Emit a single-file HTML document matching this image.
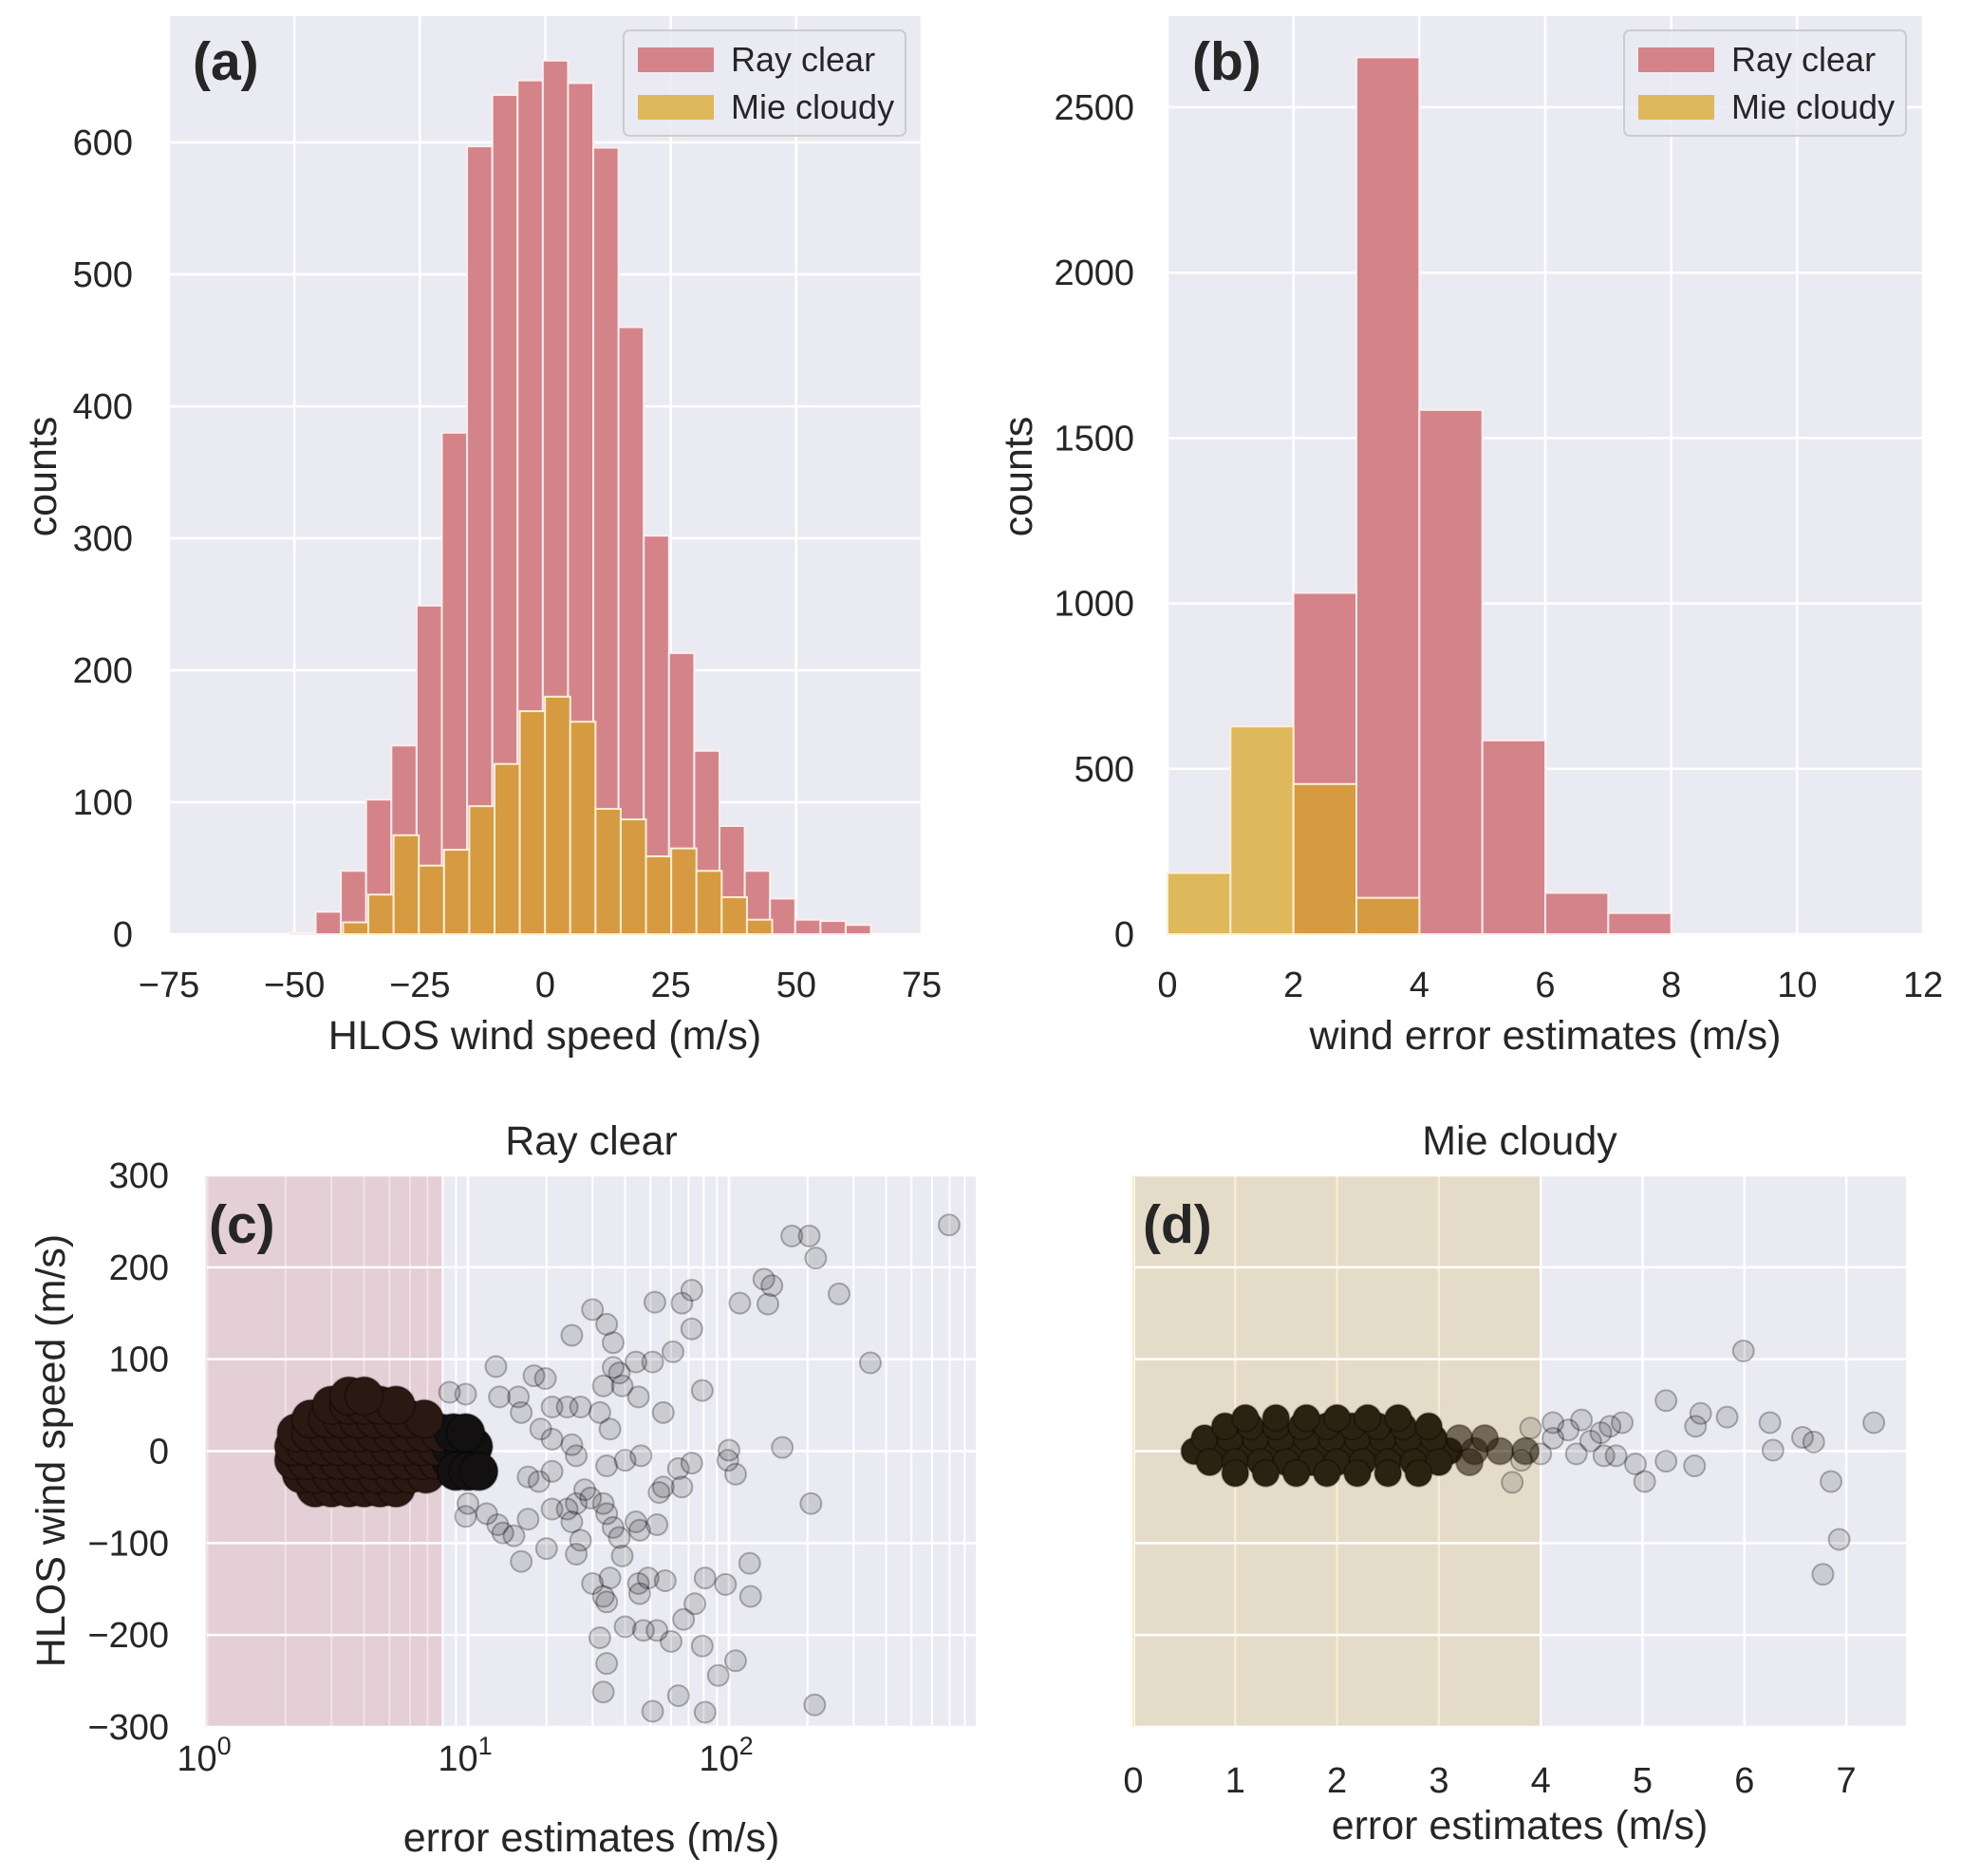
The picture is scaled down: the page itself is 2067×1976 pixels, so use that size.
<!DOCTYPE html>
<html><head><meta charset="utf-8">
<style>
html,body{margin:0;padding:0;background:#fff;}
svg{display:block;font-family:"Liberation Sans",Arial,sans-serif;}
</style></head>
<body>
<svg id="fig" width="2067" height="1976" viewBox="0 0 2067 1976" xmlns="http://www.w3.org/2000/svg"></svg>
<script>
// ---------- Panel (a) data ----------
const aRayStart = -50.8, aMieStart = -40.3, aBinW = 5.03;
const aRayCounts = [1,17,48,102,143,249,380,597,636,647,662,645,596,460,302,213,139,82,48,27,11,10,7];
const aMieCounts = [9,30,75,52,64,97,129,169,180,161,95,87,59,65,48,28,11];
const aXTicks = [-75,-50,-25,0,25,50,75];
const aYTicks = [0,100,200,300,400,500,600];
// ---------- Panel (b) data ----------
const bRayEdges = [2,3,4,5,6,7];
const bRayCounts = [1032,2651,1585,586,125,64];
const bMieEdges = [0,1,2,3];
const bMieCounts = [185,628,454,110];
const bXTicks = [0,2,4,6,8,10,12];
const bYTicks = [0,500,1000,1500,2000,2500];
// ---------- Panel (c) data ----------
const cOutX = [697,174,203,215,136,146,264,110,141,72,66,52,30,34,36,25,72,348,61,51,44,36,38,33,39,45,79,12.8,17.9,19.8,8.5,9.8,13.2,15.6,16,21,24,27,32,35,56,160,100,99,106,72,64,66,56,54,206,46,40,34,26,25,21,19,17,18.7,21,28,29.5,33,26,24,25,27,26,34,36,38,39,44,45.5,53,15,20,16,13,13.6,9.8,10,11.8,17,21,30,35,33,34,45,45.5,49,57,81,97,120,121,74,67,40,47,53,60,79,32,34,91,106,33,64,51,81,213];
const cOutY = [246,234,234,210,187,180,171,161,160,175,161,162,154,138,118,126,133,96,108,97,97,91,85,71,71,59,66,92,82,79,64,62,59,59,42,48,48,48,42,24,42,4,1,-10,-25,-13,-19,-39,-39,-45,-57,-5,-10,-16,-5,7,13,24,-28,-33,-22,-42,-51,-57,-57,-63,-77,-97,-112,-68,-83,-94,-114,-77,-86,-80,-92,-106,-120,-80,-89,-71,-57,-68,-74,-63,-144,-138,-158,-164,-144,-155,-138,-141,-138,-145,-122,-158,-166,-183,-191,-195,-195,-207,-212,-203,-231,-244,-228,-262,-266,-283,-284,-276];
const cCoreX = [2.6,3,3.5,4,4.6,5.3, 2.3,2.6,3,3.4,3.9,4.5,5.2,6,6.9, 2.15,2.4,2.8,3.2,3.7,4.3,5,5.8,6.7,7.6,8.6,9.6, 2.15,2.4,2.8,3.2,3.7,4.3,5,5.8,6.7,7.6,8.6,9.6,10.5, 2.2,2.5,2.9,3.3,3.8,4.4,5.1,5.9,6.8,7.8,8.8,9.8, 2.5,2.9,3.3,3.8,4.4,5.1,5.9,6.8, 3,3.5,4,4.6,5.3, 9,10,11, 3.5,4];
const cCoreY = [-40,-40,-40,-40,-40,-40, -25,-25,-25,-25,-25,-25,-25,-25,-25, -10,-10,-10,-10,-10,-10,-10,-10,-10,-10,-10,-10, 5,5,5,5,5,5,5,5,5,5,5,5,5, 20,20,20,20,20,20,20,20,20,20,20,20, 35,35,35,35,35,35,35,35, 50,50,50,50,50, -22,-22,-22, 60,60];
const cYTicks = [-300,-200,-100,0,100,200,300];
// ---------- Panel (d) data ----------
const dOutX = [4.12,4.12,4.27,4.35,4.40,4.49,4.59,4.68,4.74,4.80,4.62,4.93,5.02,5.23,5.23,5.52,5.57,5.51,5.83,5.99,6.25,6.28,6.57,6.68,6.85,6.93,6.77,7.27,3.9,4.0,3.81,3.72];
const dOutY = [31,14,23,-3,34,11,20,27,-5,31,-5,-14,-33,55,-11,27,41,-16,37,109,31,1,15,10,-33,-96,-134,31,25,-3,-10,-34];
const dCoreX = [0.6,0.85,1.1,1.35,1.6,1.85,2.1,2.35,2.6,2.85,3.1,3.35,3.6,3.85, 0.7,0.95,1.2,1.45,1.7,1.95,2.2,2.45,2.7,2.95,3.2,3.45, 0.75,1.0,1.25,1.5,1.75,2.0,2.25,2.5,2.75,3.0,3.3, 0.9,1.15,1.4,1.65,1.9,2.15,2.4,2.65,2.9, 1.1,1.4,1.7,2.0,2.3,2.6, 1.0,1.3,1.6,1.9,2.2,2.5,2.8];
const dCoreY = [0,0,0,0,0,0,0,0,0,0,0,0,0,0, 14,14,14,14,14,14,14,14,14,14,14,14, -12,-12,-12,-12,-12,-12,-12,-12,-12,-12,-12, 27,27,27,27,27,27,27,27,27, 36,36,36,36,36,36, -24,-24,-24,-24,-24,-24,-24];
const dXTicks = [0,1,2,3,4,5,6,7];

const NS = "http://www.w3.org/2000/svg";
const svg = document.getElementById('fig');
function el(tag, attrs, parent){
  const e = document.createElementNS(NS, tag);
  for (const k in attrs) e.setAttribute(k, attrs[k]);
  (parent||svg).appendChild(e);
  return e;
}
function txt(str, attrs, parent){ const t = el('text', attrs, parent); t.textContent = str; return t; }

const BG = '#eaeaf2', RAY = '#d48388', MIE = '#dfb85b', MIEOVER = '#d69a40';
const TICK = 38, TITLE = 43, LEG = 36, PL = 57;

// ===== Panel (a) =====
{
  const L=178,R=971,T=17,B=984;
  const xs = v => L + (v+75)/150*(R-L);
  const ys = v => B - v*1.39;
  const g = el('g',{});
  
  
  const bg = el('rect',{x:L,y:T,width:R-L,height:B-T,fill:BG},g);
   
  aXTicks.forEach(t=>{ el('line',{x1:xs(t),x2:xs(t),y1:T,y2:B,stroke:'#fff','stroke-width':2.5},g);
    const lb=txt(String(t).replace('-','\u2212'),{x:xs(t),y:1050,'font-size':TICK,'text-anchor':'middle',fill:'#262626'},g);
      });
  aYTicks.forEach(t=>{ el('line',{x1:L,x2:R,y1:ys(t),y2:ys(t),stroke:'#fff','stroke-width':2.5},g);
    const lb=txt(String(t),{x:140,y:ys(t)+13,'font-size':TICK,'text-anchor':'end',fill:'#262626'},g);
      });
  aRayCounts.forEach((c,i)=>{ const x0=xs(aRayStart+i*aBinW), x1=xs(aRayStart+(i+1)*aBinW);
    const r=el('rect',{x:x0,y:ys(c),width:x1-x0,height:B-ys(c),fill:RAY,stroke:'#fbeeee','stroke-width':2},g);
      });
  aMieCounts.forEach((c,i)=>{ const x0=xs(aMieStart+i*aBinW), x1=xs(aMieStart+(i+1)*aBinW);
    const r=el('rect',{x:x0,y:ys(c),width:x1-x0,height:B-ys(c),fill:MIEOVER,stroke:'#fbefd8','stroke-width':2},g);
      });
  const lab=txt('(a)',{x:203,y:84,'font-size':PL,'font-weight':'bold',fill:'#262626'},g);
   
  const xt=txt('HLOS wind speed (m/s)',{x:574,y:1105,'font-size':TITLE,'text-anchor':'middle',fill:'#262626'},g);
   
  const yt=txt('counts',{x:0,y:0,'font-size':TITLE,'text-anchor':'middle',fill:'#262626',transform:'translate(59,502) rotate(-90)'},g);
   
}
// ===== Panel (b) =====
{
  const L=1230,R=2026,T=17,B=984;
  const xs = v => L + v/12*(R-L);
  const ys = v => B - v*(174.2/500);
  const g = el('g',{});
  
  
  el('rect',{x:L,y:T,width:R-L,height:B-T,fill:BG},g);
  bXTicks.forEach(t=>{ el('line',{x1:xs(t),x2:xs(t),y1:T,y2:B,stroke:'#fff','stroke-width':2.5},g);
    const lb=txt(String(t),{x:xs(t),y:1050,'font-size':TICK,'text-anchor':'middle',fill:'#262626'},g);
      });
  bYTicks.forEach(t=>{ el('line',{x1:L,x2:R,y1:ys(t),y2:ys(t),stroke:'#fff','stroke-width':2.5},g);
    const lb=txt(String(t),{x:1195,y:ys(t)+13,'font-size':TICK,'text-anchor':'end',fill:'#262626'},g);
      });
  bRayCounts.forEach((c,i)=>{ const x0=xs(bRayEdges[i]), x1=xs(bRayEdges[i]+1);
    const r=el('rect',{x:x0,y:ys(c),width:x1-x0,height:B-ys(c),fill:RAY,stroke:'#fbeeee','stroke-width':2},g);
      });
  bMieCounts.forEach((c,i)=>{ const x0=xs(bMieEdges[i]), x1=xs(bMieEdges[i]+1);
    const over = bRayEdges.includes(bMieEdges[i]);
    const r=el('rect',{x:x0,y:ys(c),width:x1-x0,height:B-ys(c),fill:over?MIEOVER:MIE,stroke:'#fbefd8','stroke-width':2},g);
      });
  const lab=txt('(b)',{x:1256,y:84,'font-size':PL,'font-weight':'bold',fill:'#262626'},g);
   
  const xt=txt('wind error estimates (m/s)',{x:1628,y:1105,'font-size':TITLE,'text-anchor':'middle',fill:'#262626'},g);
   
  const yt=txt('counts',{x:0,y:0,'font-size':TITLE,'text-anchor':'middle',fill:'#262626',transform:'translate(1087,502) rotate(-90)'},g);
   
}
// ===== Legends =====
function legend(x0){
  const g=el('g',{});
  
  
  el('rect',{x:x0,y:32,width:297,height:111,rx:6,fill:'#eaeaf2',stroke:'#cccccc','stroke-width':2,'fill-opacity':0.85},g);
  el('rect',{x:x0+15,y:50,width:80,height:26,fill:RAY},g);
  el('rect',{x:x0+15,y:100,width:80,height:26,fill:MIE},g);
  const t1=txt('Ray clear',{x:x0+113,y:75,'font-size':LEG,fill:'#262626'},g);
   
  const t2=txt('Mie cloudy',{x:x0+113,y:125,'font-size':LEG,fill:'#262626'},g);
   
}
legend(657); legend(1711);

// ===== Panel (c) =====
{
  const L=218,R=1028,T=1238,B=1819;
  const xs = v => L + Math.log10(v)*275;
  const ys = v => B - (v+300)/600*(B-T);
  const g = el('g',{});
  
  
  el('rect',{x:L,y:T,width:R-L,height:B-T,fill:BG},g);
  const shadeR = xs(8);
  const sh=el('rect',{x:L,y:T,width:shadeR-L,height:B-T,fill:'#e4cfd6'},g);
   
  for(let d=0; d<3; d++){ for(let m=1;m<10;m++){ const v=m*Math.pow(10,d); if(xs(v)>R) break;
    const inS = xs(v)<shadeR;
    el('line',{x1:xs(v),x2:xs(v),y1:T,y2:B,stroke:inS?'#f1e2e6':'#fff','stroke-width':m===1?3:2},g); } }
  cYTicks.forEach(t=>{ el('line',{x1:L,x2:R,y1:ys(t),y2:ys(t),stroke:'#fff','stroke-width':2.5},g);
    const lb=txt(String(t).replace('-','\u2212'),{x:178,y:ys(t)+13,'font-size':TICK,'text-anchor':'end',fill:'#262626'},g);
      });
  [0,1,2].forEach(p=>{ const t=txt('10',{x:xs(Math.pow(10,p))-3,y:1865,'font-size':TICK,'text-anchor':'middle',fill:'#262626'},g);
    const s=el('tspan',{dy:-17,'font-size':27},t); s.textContent=String(p);
      });
  cCoreX.forEach((x,i)=>{ const c=el('circle',{cx:xs(x),cy:ys(cCoreY[i]),r:20,fill:x<8?'#2a1812':'#121010',stroke:'rgba(0,0,0,0.3)','stroke-width':2},g);
      });
  cOutX.forEach((x,i)=>{ const c=el('circle',{cx:xs(x),cy:ys(cOutY[i]),r:11,fill:'rgba(0,0,0,0.13)',stroke:'rgba(0,0,0,0.28)','stroke-width':2},g);
      });
  const lab=txt('(c)',{x:220,y:1309,'font-size':PL,'font-weight':'bold',fill:'#262626'},g);
   
  const tt=txt('Ray clear',{x:623,y:1216,'font-size':TITLE,'text-anchor':'middle',fill:'#262626'},g);
   
  const xt=txt('error estimates (m/s)',{x:623,y:1950,'font-size':TITLE,'text-anchor':'middle',fill:'#262626'},g);
   
  const yt=txt('HLOS wind speed (m/s)',{x:0,y:0,'font-size':TITLE,'text-anchor':'middle',fill:'#262626',transform:'translate(68,1528) rotate(-90)'},g);
   
}
// ===== Panel (d) =====
{
  const L=1196,R=2008,T=1238,B=1819;
  const xs = v => 1194 + v*107.3;
  const ys = v => B - (v+300)/600*(B-T);
  const g = el('g',{});
  
  
  el('rect',{x:L,y:T,width:R-L,height:B-T,fill:BG},g);
  const sh=el('rect',{x:L,y:T,width:xs(4)-L,height:B-T,fill:'#e5dbc9'},g);
   
  el('line',{x1:xs(4),x2:xs(4),y1:T,y2:B,stroke:'#f6e2b0','stroke-width':2},g);
  dXTicks.forEach(t=>{ el('line',{x1:xs(t),x2:xs(t),y1:T,y2:B,stroke:t<4?'#f8ecd2':'#fff','stroke-width':2.5},g);
    const lb=txt(String(t),{x:xs(t),y:1888,'font-size':TICK,'text-anchor':'middle',fill:'#262626'},g);
      });
  cYTicks.forEach(t=>{ el('line',{x1:L,x2:R,y1:ys(t),y2:ys(t),stroke:'#fff','stroke-width':2.5},g); });
  dCoreX.forEach((x,i)=>{ const c=el('circle',{cx:xs(x),cy:ys(dCoreY[i]),r:14,fill:x<3.2?'#2c2212':'rgba(40,28,10,0.6)',stroke:'rgba(0,0,0,0.3)','stroke-width':2},g);
      });
  dOutX.forEach((x,i)=>{ const c=el('circle',{cx:xs(x),cy:ys(dOutY[i]),r:11,fill:'rgba(0,0,0,0.13)',stroke:'rgba(0,0,0,0.28)','stroke-width':2},g);
      });
  const lab=txt('(d)',{x:1204,y:1309,'font-size':PL,'font-weight':'bold',fill:'#262626'},g);
   
  const tt=txt('Mie cloudy',{x:1601,y:1216,'font-size':TITLE,'text-anchor':'middle',fill:'#262626'},g);
   
  const xt=txt('error estimates (m/s)',{x:1601,y:1937,'font-size':TITLE,'text-anchor':'middle',fill:'#262626'},g);
   
}
</script>
</body></html>
